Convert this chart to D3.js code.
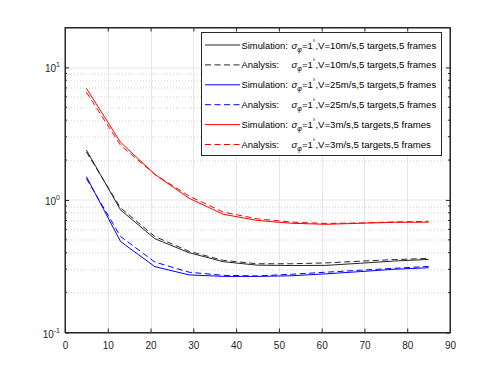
<!DOCTYPE html>
<html>
<head>
<meta charset="utf-8">
<script src="https://cdn.jsdelivr.net/npm/d3@7"></script>
<style>
  body { margin: 0; background: #fff; }
  svg { font-family: "Liberation Sans", Arial, sans-serif; }
</style>
</head>
<body>
<svg id="chart" width="498" height="374"></svg>
<script>
// distances (x axis) shared by every series
var xs = [5, 13, 21, 29, 37, 45, 53, 61, 69, 77, 85];

var sim10  = [2.38, 0.84, 0.51, 0.40, 0.342, 0.322, 0.320, 0.321, 0.333, 0.346, 0.356];
var ana10  = [2.30, 0.87, 0.53, 0.41, 0.350, 0.330, 0.330, 0.335, 0.345, 0.355, 0.362];
var sim25  = [1.50, 0.485, 0.314, 0.272, 0.265, 0.265, 0.268, 0.277, 0.288, 0.300, 0.308];
var ana25  = [1.45, 0.53, 0.34, 0.285, 0.270, 0.267, 0.275, 0.285, 0.295, 0.305, 0.315];
var sim3   = [6.95, 2.72, 1.56, 1.03, 0.78, 0.70, 0.667, 0.655, 0.667, 0.678, 0.68];
var ana3   = [6.50, 2.58, 1.56, 1.07, 0.81, 0.72, 0.680, 0.665, 0.670, 0.682, 0.69];

var xTicks = [0, 10, 20, 30, 40, 50, 60, 70, 80, 90];
var yTickExp = [-1, 0, 1];

var legendLabels = [
  ["Simulation:", "10"], ["Analysis:", "10"],
  ["Simulation:", "25"], ["Analysis:", "25"],
  ["Simulation:", "3"],  ["Analysis:", "3"]
];

var series = [
  {vals: sim10, color: "#262626", dash: null},
  {vals: ana10, color: "#262626", dash: "6,3.5"},
  {vals: sim25, color: "#0000ff", dash: null},
  {vals: ana25, color: "#0000ff", dash: "6,3.5"},
  {vals: sim3,  color: "#ff0000", dash: null},
  {vals: ana3,  color: "#ff0000", dash: "6,3.5"}
];

var svg = d3.select("#chart");
var W = 498, H = 374;
var margin = {top: 27.5, right: 48, bottom: 41.5, left: 65};
var width = W - margin.left - margin.right,
    height = H - margin.top - margin.bottom;

var x = d3.scaleLinear().domain([0, 90]).range([0, width]);
var y = d3.scaleLog().domain([0.1, 20]).range([height, 0]);

var g = svg.append("g").attr("transform", "translate(" + margin.left + "," + margin.top + ")");

// minor grid (dotted)
var minor = [];
[0.1, 1, 10].forEach(function(b) {
  for (var k = 2; k <= 9; k++) { if (b * k <= 20) minor.push(b * k); }
});
g.selectAll(".minor").data(minor).enter().append("line")
  .attr("x1", 0).attr("x2", width)
  .attr("y1", function(d) { return Math.round(y(d)) + 0.5; })
  .attr("y2", function(d) { return Math.round(y(d)) + 0.5; })
  .style("stroke", "#d0d0d0").style("stroke-dasharray", "1,2");

// major grid
g.selectAll(".gx").data(xTicks).enter().append("line")
  .attr("x1", function(d) { return Math.round(x(d)) + 0.5; })
  .attr("x2", function(d) { return Math.round(x(d)) + 0.5; })
  .attr("y1", 0).attr("y2", height)
  .style("stroke", "#e6e6e6");
g.selectAll(".gy").data(yTickExp).enter().append("line")
  .attr("x1", 0).attr("x2", width)
  .attr("y1", function(d) { return Math.round(y(Math.pow(10, d))) + 0.5; })
  .attr("y2", function(d) { return Math.round(y(Math.pow(10, d))) + 0.5; })
  .style("stroke", "#e6e6e6");

// lines
var line = d3.line()
  .x(function(d, i) { return x(xs[i]); })
  .y(function(d) { return y(d); });

series.forEach(function(s) {
  g.append("path")
    .datum(s.vals)
    .attr("d", line)
    .style("fill", "none")
    .style("stroke", s.color)
    .style("stroke-width", 1)
    .style("stroke-dasharray", s.dash);
});

// axes
g.append("g")
  .attr("class", "axis")
  .attr("transform", "translate(0," + height + ")")
  .call(d3.axisBottom(x).tickValues(xTicks).tickSizeInner(-4).tickSizeOuter(0).tickPadding(9));
g.append("g")
  .attr("class", "axis")
  .call(d3.axisTop(x).tickValues(xTicks).tickSizeInner(-4).tickSizeOuter(0).tickFormat(""));
g.append("g")
  .attr("class", "axis")
  .call(d3.axisLeft(y).tickValues(yTickExp.map(function(e) { return Math.pow(10, e); }))
    .tickSizeInner(-4).tickSizeOuter(0).tickFormat(""));
g.append("g")
  .attr("class", "axis")
  .attr("transform", "translate(" + width + ",0)")
  .call(d3.axisRight(y).tickValues(yTickExp.map(function(e) { return Math.pow(10, e); }))
    .tickSizeInner(-4).tickSizeOuter(0).tickFormat(""));

// minor ticks on y
[0, width].forEach(function(px) {
  g.selectAll(null).data(minor).enter().append("line")
    .attr("x1", px).attr("x2", px === 0 ? 2 : width - 2)
    .attr("y1", function(d) { return y(d); })
    .attr("y2", function(d) { return y(d); })
    .style("stroke", "#262626");
});

// y labels 10^n
yTickExp.forEach(function(e) {
  var t = g.append("text")
    .attr("x", -5)
    .attr("y", y(Math.pow(10, e)) + 5)
    .style("text-anchor", "end")
    .style("font-size", "10px")
    .style("fill", "#262626");
  t.append("tspan").text("10");
  t.append("tspan").attr("dy", -5).style("font-size", "7px").text(String(e));
});

d3.selectAll(".axis path").style("stroke", "#262626").style("fill", "none");
d3.selectAll(".axis line").style("stroke", "#262626");
d3.selectAll(".axis text").style("font-size", "10px").style("fill", "#262626")
  .style("font-family", "Liberation Sans, Arial, sans-serif");

// frame
g.append("rect").attr("x", 0).attr("y", 0).attr("width", width).attr("height", height)
  .style("fill", "none").style("stroke", "#262626").style("stroke-width", 1);

// legend
var lg = svg.append("g").attr("transform", "translate(201.5,32.5)");
lg.append("rect").attr("width", 240).attr("height", 123)
  .style("fill", "#fff").style("stroke", "#262626");

legendLabels.forEach(function(l, i) {
  var cy = 12.5 + i * 19.9;
  lg.append("line")
    .attr("x1", 3.5).attr("x2", 38.5).attr("y1", cy).attr("y2", cy)
    .style("stroke", series[i].color)
    .style("stroke-dasharray", series[i].dash);
  lg.append("text").attr("x", 40).attr("y", cy + 3.5)
    .style("font-size", "9.4px").style("fill", "#000").text(l[0]);
  var t = lg.append("text").attr("x", 90).attr("y", cy + 3.5)
    .style("font-size", "9.6px").style("fill", "#000");
  t.append("tspan").style("font-style", "italic").text("σ");
  t.append("tspan").attr("dy", 3).style("font-size", "7px").style("font-style", "italic").text("φ");
  t.append("tspan").attr("dy", -3).text("=1");
  t.append("tspan").attr("dy", -4).style("font-size", "6.5px").text("°");
  t.append("tspan").attr("dy", 4).text(",V=" + l[1] + "m/s,5 targets,5 frames");
});
</script>
</body>
</html>
